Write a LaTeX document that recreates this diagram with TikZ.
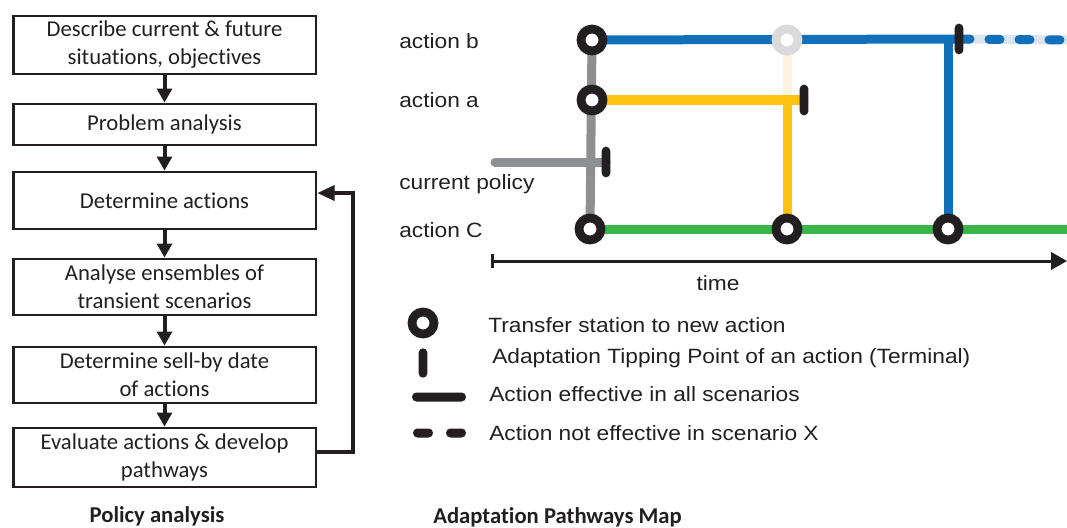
\documentclass[tikz,border=0pt]{standalone}
\usepackage{fontspec}
\setmainfont[Ligatures=NoCommon]{Carlito}
\newfontfamily\arial[FakeStretch=1.1]{Liberation Sans}
\usetikzlibrary{arrows.meta}
\definecolor{ink}{HTML}{231F20}
\definecolor{mblue}{HTML}{1170B9}
\definecolor{mlblue}{HTML}{DCE4F2}
\definecolor{myellow}{HTML}{FFC20F}
\definecolor{mlyellow}{HTML}{FDF3DC}
\definecolor{mgreen}{HTML}{39B54A}
\definecolor{mgrey}{HTML}{8D8F92}
\definecolor{mlgrey}{HTML}{D9DADC}
\pgfdeclarelayer{bg}
\pgfsetlayers{bg,main}
\tikzset{
  box/.style={draw=ink, line width=2pt, minimum width=227pt, inner sep=0pt, align=center,
    font=\fontsize{17}{21}\selectfont, text=ink},
  flow/.style={-{Triangle[width=11pt,length=10.5pt]}, line width=3pt, draw=ink},
  maplabel/.style={anchor=west, inner sep=0pt, text=ink, font=\arial\fontsize{15.5}{18}\selectfont},
  title/.style={inner sep=0pt, text=ink, font=\bfseries\fontsize{17}{20}\selectfont},
  mline/.style={line width=6.75pt},
  ring/.style={circle, draw=ink, line width=6.6pt, fill=white, minimum size=16.5pt, inner sep=0pt},
  tipbar/.style={rectangle, fill=ink, minimum width=6.5pt, minimum height=23pt, rounded corners=3.2pt, inner sep=0pt},
  legbar/.style={rectangle, fill=ink, minimum height=6.75pt, rounded corners=3.3pt, inner sep=0pt},
}
\begin{document}
\begin{tikzpicture}[x=0.75pt,y=-0.75pt]
\useasboundingbox (0,0) rectangle (1067,528);

% ---------- Policy analysis flow ----------
\node[box, minimum height=43.5pt] (b1) at (164.5,45) {Describe current \& future\\situations, objectives};
\node[box, minimum height=30.75pt] (b2) at (164.5,124.5) {Problem analysis};
\node[box, minimum height=42.75pt] (b3) at (164.5,200.5) {Determine actions};
\node[box, minimum height=42pt] (b4) at (164.5,287) {Analyse ensembles of\\transient scenarios};
\node[box, minimum height=42pt] (b5) at (164.5,375) {Determine sell-by date\\of actions};
\node[box, minimum height=44.25pt] (b6) at (164.5,457.5) {Evaluate actions \& develop\\pathways};
\draw[flow] (b1) -- (b2);
\draw[flow] (b2) -- (b3);
\draw[flow] (b3) -- (b4);
\draw[flow] (b4) -- (b5);
\draw[flow] (b5) -- (b6);
\draw[flow, -{Triangle[width=11pt,length=13pt]}] ([yshift=4pt]b6.east) -- ++(36,0) |- ([yshift=5.6pt]b3.east);
\node[title] (t1) at (157,516) {Policy analysis};

% ---------- Adaptation pathways map ----------
\node[maplabel] (lb) at (399,41) {action b};
\node[maplabel] (la) at (399,100) {action a};
\node[maplabel] (lcp) at (399,184) {current policy};
\node[maplabel] (lc) at (399,230) {action C};

\node[ring] (sb) at (592,40) {};
\node[ring] (sa) at (592,100) {};
\node[ring] (sc) at (590,229) {};
\node[ring] (sy) at (787,229) {};
\node[ring] (sbl) at (948,229) {};
\node[ring, draw=mlgrey] (fc) at (787,40) {};
\node[tipbar] (tcp) at (606,162) {};
\node[tipbar] (ta) at (804,100) {};
\node[tipbar] (tb) at (959,39) {};
\coordinate (cpS) at (495,162);
\coordinate (yj) at (787,100);
\coordinate (bj) at (948,40);
\coordinate (bend) at (1067,40);
\coordinate (gend) at (1067,229);

\begin{pgfonlayer}{bg}
\draw[mline, mgrey] (sb.center) -- (sc.center);
\draw[mline, mgrey, line cap=round] (cpS) -- (tcp.center);
\draw[mline, mlyellow] (fc.center) -- (yj);
\draw[mline, mblue] (sb.center) -- (tb.center);
\draw[mline, mblue] (bj) -- (sbl.center);
\draw[mline, mlblue] (tb.center) -- (bend);
\draw[mline, mblue, line cap=round, dash pattern=on 8.25pt off 14.25pt] (tb.center) -- (bend);
\draw[mline, myellow] (sa.center) -- (ta.center);
\draw[mline, myellow] (yj) -- (sy.center);
\draw[mline, mgreen] (sc.center) -- (gend);
\end{pgfonlayer}

% time axis
\coordinate (t0) at (491,261);
\coordinate (t1e) at (1067,261);
\draw[line width=2.25pt, draw=ink, {Bar[width=10.5pt]}-{Triangle[width=13pt,length=12pt]}] (t0) -- (t1e);
\node[maplabel, anchor=center] (tl) at (718,283) {time};

% legend
\node[ring] (l1) at (423,323) {};
\node[tipbar, minimum height=22pt] (l2) at (423,363) {};
\node[legbar, minimum width=40.5pt] (l3) at (439,397) {};
\node[legbar, minimum width=15pt] (l4a) at (423,433) {};
\node[legbar, minimum width=15pt] (l4b) at (456,433) {};
\node[maplabel] (lt1) at (488,325) {Transfer station to new action};
\node[maplabel] (lt2) at (492,358) {Adaptation Tipping Point of an action (Terminal)};
\node[maplabel] (lt3) at (489,394) {Action effective in all scenarios};
\node[maplabel] (lt4) at (489,433) {Action not effective in scenario X};
\node[title, anchor=west] (t2) at (433,517) {Adaptation Pathways Map};
\end{tikzpicture}
\end{document}
